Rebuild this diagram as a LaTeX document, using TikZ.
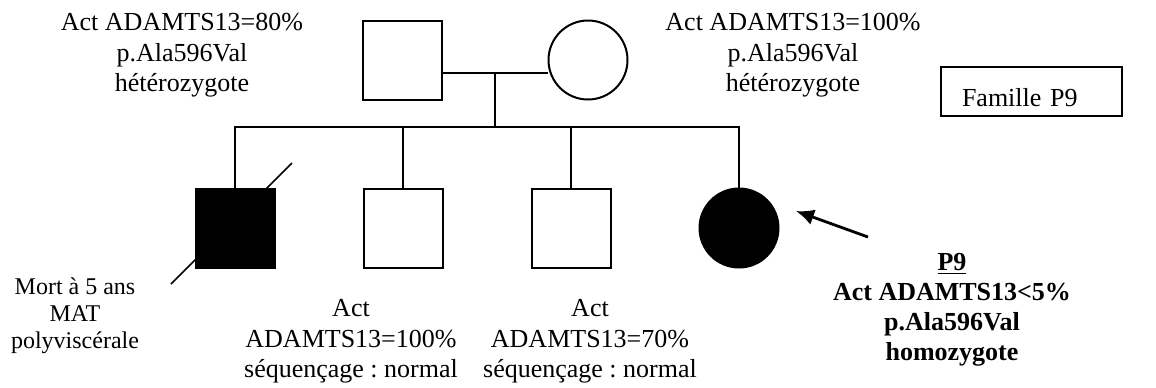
\documentclass[tikz,border=0pt]{standalone}
\usepackage{fontspec}
\setmainfont{Liberation Serif}
\usetikzlibrary{arrows,arrows.meta}
\usetikzlibrary{calc}
\usetikzlibrary{backgrounds}
\tikzset{>=latex}
\frenchspacing

\begin{document}
\begin{tikzpicture}[x=0.5pt,y=-0.5pt,>=Latex]
    % Styles for the pedigree symbols and their captions
    \tikzstyle{male}     = [draw, line width=1pt, fill=white, minimum size=39.5pt, inner sep=0pt]
    \tikzstyle{female}   = [draw, circle, line width=1pt, fill=white, minimum size=39.5pt, inner sep=0pt]
    \tikzstyle{affected} = [fill=black]
    \tikzstyle{info}     = [align=center, inner sep=0pt, anchor=north, font=\fontsize{13}{15.3}\selectfont]
    \tikzstyle{link}     = [line width=1pt]

    % Pedigree geometry (pixel grid, y pointing down)
    \def\ytop  {60}     % centre of the parents row
    \def\ykid  {228}    % centre of the children row
    \def\ymate {73}     % marriage line
    \def\ysib  {127}    % sibship line

    \useasboundingbox (0,0) rectangle (1156,387);

    % Parents
    \node[male]   (father) at (402,\ytop) {};
    \node[female] (mother) at (588,\ytop) {};

    % Children
    \node[male, affected]   (son)      at (235,\ykid) {};
    \node[male]             (brotherA) at (403,\ykid) {};
    \node[male]             (brotherB) at (571,\ykid) {};
    \node[female, affected] (proband)  at (739,\ykid) {};

    \coordinate (mate) at (495,\ymate);
    \coordinate (sib)  at (495,\ysib);

    % Lines of descent, kept behind the symbols
    \begin{scope}[on background layer]
        \draw[link] (father.east |- mate) -- (mother.west |- mate);
        \draw[link] (mate) -- (sib);
        \draw[link] (son.north) -- (son |- sib) -- (proband |- sib) -- (proband.north);
        \draw[link] (brotherA.north) -- (brotherA |- sib);
        \draw[link] (brotherB.north) -- (brotherB |- sib);
        % deceased
        \draw[line width=0.75pt] ($(son)+(-64,56)$) -- ($(son)+(57,-65)$);
    \end{scope}

    % Proband pointer
    \coordinate (ptail) at (868,237);
    \draw[line width=1.4pt, -{Latex[length=9pt,width=8pt]}] (ptail) -- ($(proband)+(57,-17)$);

    % Captions
    \node[info] (fatherinfo) at (182,13) {Act ADAMTS13=80\%\\p.Ala596Val\\hétérozygote};
    \node[info] (motherinfo) at (793,13) {Act ADAMTS13=100\%\\p.Ala596Val\\hétérozygote};
    \node[info, font=\fontsize{12}{13.5}\selectfont] (soninfo) at (75,277) {Mort à 5 ans\\MAT\\polyviscérale};
    \node[info] (brotherAinfo) at (351,299) {Act\\ADAMTS13=100\%\\séquençage : normal};
    \node[info] (brotherBinfo) at (590,299) {Act\\ADAMTS13=70\%\\séquençage : normal};
    \node[info, font=\fontsize{13}{15}\selectfont\bfseries] (probandinfo) at (952,253)
        {\underline{P9}\\Act ADAMTS13<5\%\\p.Ala596Val\\homozygote};

    % Family label
    \node[draw, line width=1pt, text width=69.5pt, align=left, inner xsep=10.5pt, inner ysep=5pt,
          text height=14.5pt, text depth=0pt, font=\fontsize{13}{15}\selectfont] (famille) at (1031.5,91.5) {Famille P9};

\end{tikzpicture}
\end{document}
